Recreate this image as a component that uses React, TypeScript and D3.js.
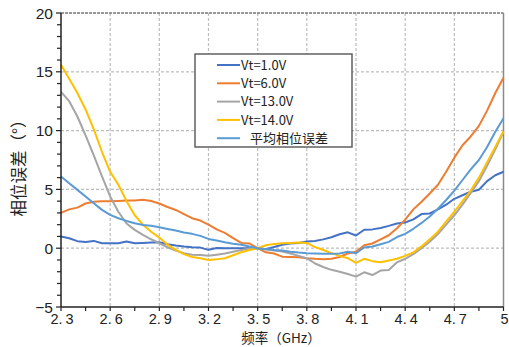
import React from 'react'
import * as d3 from 'd3'

// frequency samples (GHz)
const freqs = d3.range(55).map(i => +(2.3 + i * 0.05).toFixed(2))

const vt1 = [0.99, 0.85, 0.6, 0.52, 0.62, 0.42, 0.42, 0.42, 0.57, 0.42, 0.45, 0.48, 0.5, 0.34, 0.23, 0.14, 0.08, 0.05, -0.14, 0.02, 0.0, 0.0, 0.0, 0.0, 0.0, -0.08, 0.1, 0.3, 0.4, 0.45, 0.57, 0.62, 0.75, 0.93, 1.19, 1.35, 1.08, 1.57, 1.6, 1.72, 1.9, 2.1, 2.19, 2.45, 2.9, 2.95, 3.3, 3.7, 4.2, 4.5, 4.8, 4.97, 5.7, 6.2, 6.5]
const vt6 = [3.0, 3.3, 3.45, 3.8, 3.95, 4.0, 4.0, 4.02, 4.05, 4.05, 4.12, 4.02, 3.8, 3.5, 3.25, 2.9, 2.55, 2.35, 2.0, 1.6, 1.3, 0.85, 0.45, 0.4, 0.0, -0.35, -0.45, -0.72, -0.75, -0.78, -0.85, -0.9, -0.93, -0.9, -0.75, -0.45, -0.3, 0.25, 0.4, 0.75, 1.1, 1.7, 2.42, 3.3, 3.95, 4.65, 5.4, 6.5, 7.7, 8.75, 9.5, 10.4, 11.7, 13.2, 14.5]
const vt13 = [13.3, 12.5, 11.2, 9.6, 7.9, 6.1, 4.4, 3.1, 2.1, 1.56, 1.13, 0.76, 0.42, 0.08, -0.2, -0.42, -0.55, -0.58, -0.65, -0.55, -0.45, -0.3, -0.15, -0.05, 0.0, -0.1, -0.2, -0.28, -0.45, -0.65, -0.85, -1.3, -1.6, -1.84, -2.0, -2.2, -2.42, -2.05, -2.28, -1.9, -1.85, -1.2, -0.9, -0.5, 0.0, 0.55, 1.2, 2.0, 2.8, 3.7, 4.7, 5.7, 7.0, 8.4, 9.9]
const vt14 = [15.6, 14.4, 13.2, 11.8, 10.1, 8.2, 6.5, 5.4, 4.0, 2.8, 2.0, 1.4, 0.9, 0.3, -0.15, -0.5, -0.75, -0.85, -1.0, -0.95, -0.85, -0.6, -0.35, -0.15, 0.0, 0.25, 0.35, 0.42, 0.45, 0.48, 0.45, 0.1, -0.15, -0.42, -0.65, -0.85, -1.25, -0.9, -1.1, -1.2, -1.05, -0.9, -0.65, -0.35, 0.15, 0.75, 1.4, 2.25, 3.1, 4.0, 4.9, 6.0, 7.3, 8.6, 9.95]
const avg = [6.09, 5.52, 4.96, 4.39, 3.82, 3.26, 2.83, 2.55, 2.32, 2.12, 1.98, 1.9, 1.78, 1.64, 1.5, 1.33, 1.22, 1.05, 0.79, 0.65, 0.5, 0.38, 0.3, 0.14, 0.0, -0.08, -0.15, -0.2, -0.3, -0.37, -0.42, -0.45, -0.48, -0.48, -0.45, -0.3, -0.43, 0.06, 0.14, 0.34, 0.54, 0.95, 1.22, 1.65, 2.15, 2.7, 3.35, 4.1, 4.9, 5.8, 6.7, 7.5, 8.6, 9.9, 11.05]

const seriesNames = ['Vt=1.0V', 'Vt=6.0V', 'Vt=13.0V', 'Vt=14.0V', '平均相位误差']
const seriesColors = ['#4472C4', '#ED7D31', '#A5A5A5', '#FFC000', '#5B9BD5']
const seriesValues = [vt1, vt6, vt13, vt14, avg]

const xTicks = [2.3, 2.6, 2.9, 3.2, 3.5, 3.8, 4.1, 4.4, 4.7, 5]
const yTicks = [-5, 0, 5, 10, 15, 20]

const W = 509
const H = 347

const App = () => {
    const x = d3.scaleLinear().domain([2.3, 5]).range([61, 503.5])
    const y = d3.scaleLinear().domain([-5, 20]).range([307, 13])

    const line = d3.line<number>()
        .x((_, i) => x(freqs[i]))
        .y(d => y(d))

    const xMinor = d3.range(2.45, 5, 0.3)
    const yMinor = d3.range(-5, 21, 1).filter(v => v % 5 !== 0)

    const legendRows = seriesNames.map((n, i) => 65 + i * 18.3)

    return (
        <svg width={W} height={H} style={{ position: 'absolute', left: 0, top: 0, background: '#fff' }}>
            {/* grid */}
            <g stroke="#bdbdbd" strokeWidth={1.2} strokeDasharray="3,2" fill="none">
                {xTicks.slice(1, -1).map(t => (
                    <line key={'gx' + t} x1={x(t)} x2={x(t)} y1={y(20)} y2={y(-5)} />
                ))}
                {yTicks.slice(1, -1).map(t => (
                    <line key={'gy' + t} x1={x(2.3)} x2={x(5)} y1={y(t)} y2={y(t)} />
                ))}
            </g>
            {/* frame */}
            <line x1={x(2.3)} x2={x(5)} y1={y(20)} y2={y(20)} stroke="#777" strokeWidth={1.3} strokeDasharray="3,1" />
            <line x1={x(5)} x2={x(5)} y1={y(20)} y2={y(-5)} stroke="#8a8a8a" strokeWidth={1.5} />

            {/* series */}
            <g fill="none" strokeWidth={2} strokeLinejoin="round">
                {seriesValues.map((vals, i) => (
                    <path key={seriesNames[i]} d={line(vals) || ''} stroke={seriesColors[i]} />
                ))}
            </g>

            {/* y axis */}
            <g stroke="#222" strokeWidth={1.2}>
                <line x1={x(2.3)} x2={x(2.3)} y1={y(20)} y2={y(-5)} strokeWidth={1.5} />
                {yTicks.map(t => (
                    <line key={'yt' + t} x1={x(2.3) - 5} x2={x(2.3)} y1={y(t)} y2={y(t)} />
                ))}
                {yMinor.map(t => (
                    <line key={'ym' + t} x1={x(2.3) - 4} x2={x(2.3)} y1={y(t)} y2={y(t)} />
                ))}
            </g>
            <g fontFamily="'Liberation Sans', Arial, sans-serif" fontSize={15.5} fill="#222" textAnchor="end">
                {yTicks.map(t => (
                    <text key={'yl' + t} x={x(2.3) - 8} y={y(t) + 5.5}>{t < 0 ? '−' + Math.abs(t) : t}</text>
                ))}
            </g>

            {/* x axis */}
            <g stroke="#222" strokeWidth={1.2}>
                <line x1={x(2.3)} x2={x(5)} y1={y(-5)} y2={y(-5)} strokeWidth={1.5} />
                {xTicks.map(t => (
                    <line key={'xt' + t} x1={x(t)} x2={x(t)} y1={y(-5)} y2={y(-5) + 4} />
                ))}
                {xMinor.map(t => (
                    <line key={'xm' + t} x1={x(t)} x2={x(t)} y1={y(-5)} y2={y(-5) + 4} />
                ))}
            </g>
            <g fontFamily="'Liberation Sans', Arial, sans-serif" fontSize={14.5} fill="#222" textAnchor="middle">
                {xTicks.map(t => {
                    const s = d3.format('.1f')(t).split('.')
                    return t === 5 ? (
                        <text key={'xl' + t} x={x(t) + 1} y={324}>5</text>
                    ) : (
                        <text key={'xl' + t} x={x(t) + 1} y={324}>{s[0]}.<tspan dx={3}>{s[1]}</tspan></text>
                    )
                })}
            </g>

            {/* axis titles */}
            <text x={281} y={342.5} textAnchor="middle" fontFamily="'Noto Sans CJK SC', sans-serif" fontSize={13.5} fill="#222">频率（GHz）</text>
            <text transform={`translate(25,${y(7.5) + 4}) rotate(-90)`} textAnchor="middle" fontFamily="'Noto Sans CJK SC', sans-serif" fontSize={16.5} fill="#222">相位误差（°）</text>

            {/* legend */}
            <rect x={195} y={54} width={157} height={93} fill="#fff" stroke="#555" strokeWidth={1.4} />
            {seriesNames.map((n, i) => (
                <g key={'lg' + n}>
                    <line x1={217} x2={240} y1={legendRows[i]} y2={legendRows[i]} stroke={seriesColors[i]} strokeWidth={2} />
                    <text x={i === 4 ? 250 : 241} y={legendRows[i] + 4.8} fontFamily="'Noto Sans CJK SC', sans-serif" fontSize={13} fill="#222">{n}</text>
                </g>
            ))}
        </svg>
    )
}

export default App
